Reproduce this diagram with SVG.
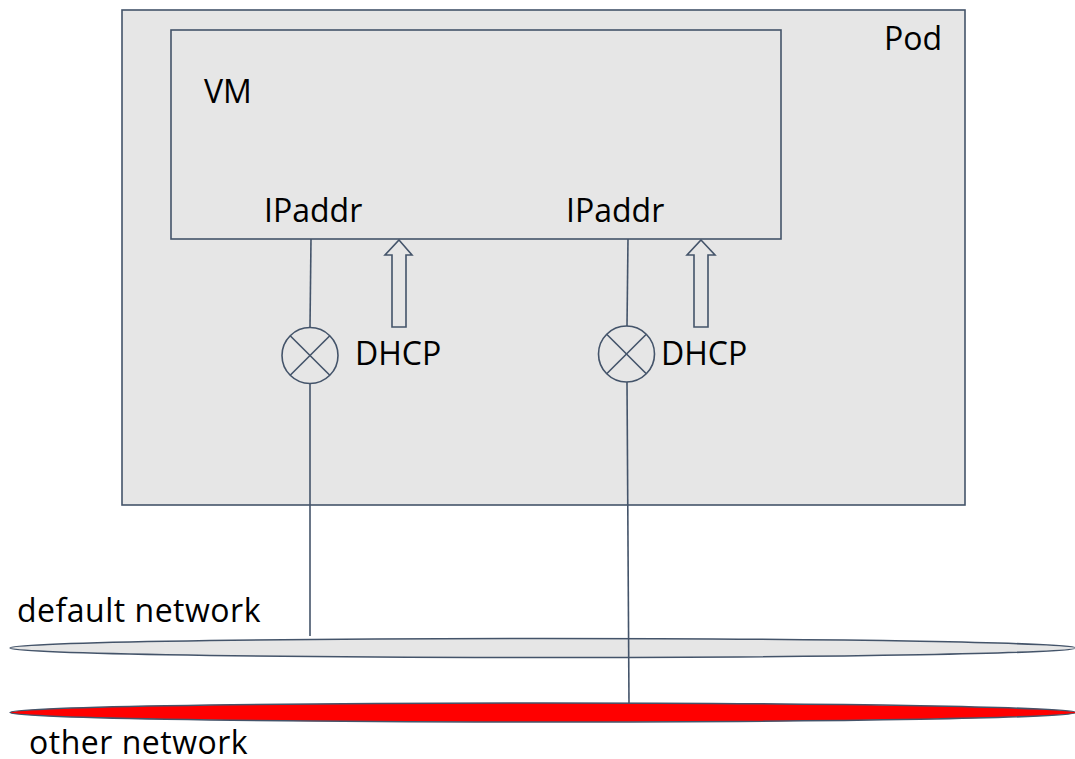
<svg xmlns="http://www.w3.org/2000/svg" width="1075" height="759" viewBox="0 0 1075 759">
  <style>
    .box { fill: #e6e6e6; stroke: #44546a; stroke-width: 1.6; }
    .wire { fill: none; stroke: #44546a; stroke-width: 1.6; }
    .lbl { font-family: "Open Sans", Lato, sans-serif; font-size: 32px; fill: #000; }
    .netlbl { letter-spacing: 0.5px; }
    .net { stroke: #44546a; stroke-width: 1.6; }
  </style>
  <rect width="1075" height="759" fill="#ffffff"/>

  <g id="pod">
    <rect class="box" x="122" y="10" width="843" height="495"/>
    <text class="lbl" x="884" y="50">Pod</text>
  </g>

  <g id="vm">
    <rect class="box" x="171" y="30" width="610" height="209"/>
    <text class="lbl" x="204" y="103">VM</text>
    <text class="lbl" x="264" y="222">IPaddr</text>
    <text class="lbl" x="566" y="222">IPaddr</text>
  </g>

  <g id="default-network">
    <ellipse class="net" cx="543" cy="648" rx="533" ry="9.5" fill="#e6e6e6"/>
    <text class="lbl netlbl" x="17" y="622">default network</text>
  </g>

  <g id="other-network">
    <ellipse class="net" cx="543" cy="712.5" rx="533" ry="9.5" fill="#ff0000"/>
    <text class="lbl netlbl" x="29" y="754">other network</text>
  </g>

  <g id="connectors">
    <!-- interface 1 -->
    <line class="wire" x1="311" y1="239" x2="310" y2="327"/>
    <line class="wire" x1="310" y1="384" x2="310" y2="636"/>
    <!-- interface 2 -->
    <line class="wire" x1="628" y1="239" x2="627" y2="326"/>
    <line class="wire" x1="627" y1="382" x2="629" y2="703"/>
  </g>

  <g id="switch1">
    <circle class="wire" cx="310" cy="355.5" r="28"/>
    <line class="wire" x1="290.2" y1="335.7" x2="329.8" y2="375.3"/>
    <line class="wire" x1="329.8" y1="335.7" x2="290.2" y2="375.3"/>
  </g>

  <g id="switch2">
    <circle class="wire" cx="626.5" cy="354" r="28"/>
    <line class="wire" x1="606.7" y1="334.2" x2="646.3" y2="373.8"/>
    <line class="wire" x1="646.3" y1="334.2" x2="606.7" y2="373.8"/>
  </g>

  <g id="dhcp1">
    <polygon class="box" points="399,240 412,255 406,255 406,327 392,327 392,255 385,255"/>
    <text class="lbl" x="355" y="365">DHCP</text>
  </g>

  <g id="dhcp2">
    <polygon class="box" points="701,240 715,255 708,255 708,327 694,327 694,255 687,255"/>
    <text class="lbl" x="661" y="365">DHCP</text>
  </g>
</svg>
